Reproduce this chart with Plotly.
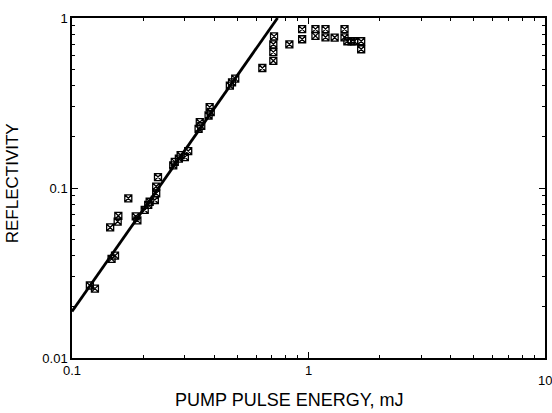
import plotly.graph_objects as go

energy = [0.119, 0.125, 0.145, 0.147, 0.152, 0.156, 0.157, 0.173, 0.186, 0.189,
          0.203, 0.210, 0.213, 0.224, 0.227, 0.227, 0.231, 0.268, 0.272, 0.283,
          0.288, 0.300, 0.310, 0.343, 0.347, 0.352, 0.378, 0.382, 0.386, 0.465,
          0.475, 0.490, 0.638, 0.710, 0.710, 0.710, 0.715, 0.830, 0.940, 0.940,
          1.07, 1.07, 1.18, 1.18, 1.29, 1.42, 1.42, 1.46, 1.52, 1.56, 1.67, 1.67]
reflectivity = [0.0267, 0.0256, 0.0586, 0.0383, 0.040, 0.0635, 0.0686, 0.087, 0.068, 0.0645,
                0.0743, 0.0796, 0.083, 0.085, 0.093, 0.102, 0.116, 0.136, 0.1425, 0.149,
                0.156, 0.152, 0.165, 0.223, 0.244, 0.232, 0.267, 0.299, 0.280, 0.400,
                0.418, 0.440, 0.508, 0.560, 0.630, 0.700, 0.780, 0.700, 0.750, 0.860,
                0.785, 0.860, 0.770, 0.860, 0.767, 0.770, 0.860, 0.730, 0.730, 0.730, 0.655, 0.730]

fit_energy = [0.1, 0.74]
fit_reflectivity = [0.0188, 1.0]

x_major = [0.1, 1]
x_major_text = ["0.1", "1"]
x_last_label = "10"
y_major = [0.01, 0.1, 1]
y_major_text = ["0.01", "0.1", "1"]
x_minor = [m * d for d in (0.1, 1) for m in range(2, 10)]
y_minor = [m * d for d in (0.01, 0.1) for m in range(2, 10)]

x_title = "PUMP PULSE ENERGY, mJ"
y_title = "REFLECTIVITY"

font = "Liberation Sans, Arial, sans-serif"

fig = go.Figure()
fig.add_trace(go.Scatter(x=fit_energy, y=fit_reflectivity, mode="lines",
                         line=dict(color="black", width=2.8), showlegend=False))
fig.add_trace(go.Scatter(x=energy, y=reflectivity, mode="markers",
                         marker=dict(symbol="square-x-open", size=7, color="black",
                                     line=dict(color="black", width=1.3)),
                         showlegend=False))

axis_common = dict(showline=True, linecolor="black", linewidth=1.5, mirror="ticks",
                   ticks="inside", ticklen=6, tickwidth=1, tickcolor="black",
                   showgrid=False, zeroline=False,
                   tickfont=dict(family=font, size=13, color="black"))

fig.update_xaxes(type="log", range=[-1, 1], tickvals=x_major, ticktext=x_major_text,
                 minor=dict(tickvals=x_minor + [10], ticks="inside", ticklen=3, tickcolor="black"),
                 **axis_common)
fig.update_yaxes(type="log", range=[-2, 0], tickvals=y_major, ticktext=y_major_text,
                 minor=dict(tickvals=y_minor, ticks="inside", ticklen=3, tickcolor="black"),
                 **axis_common)

# last x tick label (partly cut by the page edge, as in the reference)
fig.add_annotation(x=1, xref="x", y=-0.065, yref="paper", text=x_last_label,
                   showarrow=False, xanchor="center", yanchor="middle",
                   font=dict(family=font, size=13, color="black"))
fig.add_annotation(x=0.459, xref="paper", y=-0.124, yref="paper", text=x_title,
                   showarrow=False, xanchor="center", yanchor="middle",
                   font=dict(family=font, size=18, color="black"))
fig.add_annotation(x=-0.126, xref="paper", y=0.515, yref="paper", text=y_title,
                   showarrow=False, xanchor="center", yanchor="middle", textangle=-90,
                   font=dict(family=font, size=17, color="black"))

fig.update_layout(width=552, height=413, margin=dict(l=72, r=5, t=18, b=55),
                  plot_bgcolor="white", paper_bgcolor="white")

fig.write_html("out.html")
